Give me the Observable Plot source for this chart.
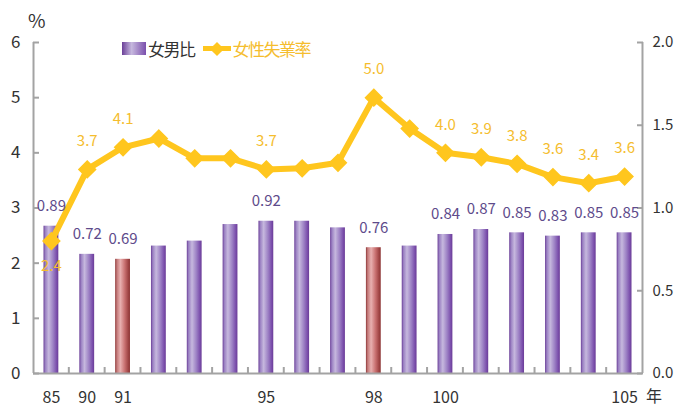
<!DOCTYPE html>
<html>
<head>
<meta charset="utf-8">
<script src="https://cdn.jsdelivr.net/npm/d3@7"></script>
<script src="https://cdn.jsdelivr.net/npm/@observablehq/plot@0.6"></script>
<style>
  body { margin: 0; background: #fff; }
  #wrap { position: relative; width: 674px; height: 408px; font-family: "Noto Sans CJK TC", "Noto Sans", sans-serif; }
  #wrap svg { position: absolute; left: 0; top: 0; }
  .ov { position: absolute; white-space: nowrap; line-height: 1; }
</style>
</head>
<body>
<div id="wrap"></div>
<script>
// ---- data ----
const years = ["85","90","91","92","93","94","95","96","97","98","99","100","101","102","103","104","105"];
const femaleRate = [2.4, 3.7, 4.1, 4.26, 3.9, 3.9, 3.7, 3.72, 3.82, 5.0, 4.44, 4.0, 3.92, 3.8, 3.56, 3.45, 3.57];
const rateLabels = ["2.4","3.7","4.1","","","","3.7","","","5.0","","4.0","3.9","3.8","3.6","3.4","3.6"];
const ratio = [0.89, 0.72, 0.69, 0.77, 0.80, 0.90, 0.92, 0.92, 0.88, 0.76, 0.77, 0.84, 0.87, 0.85, 0.83, 0.85, 0.85];
const ratioLabels = ["0.89","0.72","0.69","","","","0.92","","","0.76","","0.84","0.87","0.85","0.83","0.85","0.85"];
const highlighted = ["91","98"];
const xTickLabels = ["85","90","91","95","98","100","105"];
const leftTicks = [0,1,2,3,4,5,6];
const rightTicks = [0.0, 0.5, 1.0, 1.5, 2.0];

const rows = years.map((y, i) => ({year: y, rate: femaleRate[i], rateLabel: rateLabels[i], ratio: ratio[i], ratioLabel: ratioLabels[i], hl: highlighted.includes(y)}));
const K = 3; // right axis 2.0 maps to left 6

const yellow = "#FFC61E";
const yellowText = "#F5BD2E";
const purpleText = "#5E4B8B";
const axisGray = "#A3A3A3";

const defsMark = () => {
  const ns = "http://www.w3.org/2000/svg";
  const defs = document.createElementNS(ns, "defs");
  const mk = (id, stops) => {
    const g = document.createElementNS(ns, "linearGradient");
    g.setAttribute("id", id);
    g.setAttribute("x1", "0"); g.setAttribute("x2", "1"); g.setAttribute("y1", "0"); g.setAttribute("y2", "0");
    stops.forEach(([o, c]) => {
      const s = document.createElementNS(ns, "stop");
      s.setAttribute("offset", o); s.setAttribute("stop-color", c);
      g.appendChild(s);
    });
    defs.appendChild(g);
  };
  mk("gp", [[0, "#6B3F98"], [0.12, "#9A80C2"], [0.35, "#C6B8DE"], [0.65, "#9C80C4"], [0.88, "#7B4FAC"], [1, "#6A3C96"]]);
  mk("gr", [[0, "#8E3838"], [0.12, "#C47A7A"], [0.35, "#E8B0B0"], [0.65, "#C87070"], [0.88, "#A04545"], [1, "#8C3434"]]);
  return defs;
};

// ticks at band boundaries along the x axis, pointing up
const xBoundaryTicks = (index, scales) => {
  const ns = "http://www.w3.org/2000/svg";
  const g = document.createElementNS(ns, "g");
  const y0 = scales.y(0);
  years.slice(1).forEach(yr => {
    const xx = scales.x(yr);
    const l = document.createElementNS(ns, "line");
    l.setAttribute("x1", xx); l.setAttribute("x2", xx);
    l.setAttribute("y1", y0); l.setAttribute("y2", y0 - 6);
    l.setAttribute("stroke", axisGray); l.setAttribute("stroke-width", 2);
    g.appendChild(l);
  });
  return g;
};

const chart = Plot.plot({
  width: 674,
  height: 408,
  marginLeft: 33,
  marginRight: 32,
  marginTop: 42,
  marginBottom: 35,
  style: {fontFamily: '"Noto Sans CJK TC", "Noto Sans", sans-serif', background: "transparent", overflow: "visible"},
  x: {type: "band", domain: years, padding: 0, round: false, axis: null, label: null},
  y: {domain: [0, 6], axis: null, label: null},
  marks: [
    defsMark,
    Plot.barY(rows.filter(d => !d.hl), {x: "year", y: d => d.ratio * K, fill: "url(#gp)", insetLeft: 10.5, insetRight: 10.5}),
    Plot.barY(rows.filter(d => d.hl), {x: "year", y: d => d.ratio * K, fill: "url(#gr)", insetLeft: 10.5, insetRight: 10.5}),
    // axes lines
    Plot.ruleY([0], {stroke: axisGray, strokeWidth: 2}),
    Plot.ruleX([years[0]], {x: d => d, dx: -17.9, y1: 0, y2: 6, stroke: axisGray, strokeWidth: 2}),
    Plot.ruleX([years[years.length - 1]], {x: d => d, dx: 17.9, y1: 0, y2: 6, stroke: axisGray, strokeWidth: 2}),
    xBoundaryTicks,
    // left axis
    Plot.axisY(leftTicks, {anchor: "left", label: null, tickSize: 6, dx: 6, tickFormat: () => "", stroke: axisGray, strokeWidth: 2}),
    Plot.axisY(leftTicks, {anchor: "left", label: null, tickSize: 0, tickPadding: 13, fontSize: 17, fill: "#333", tickFormat: d => String(d)}),
    // right axis
    Plot.axisY(rightTicks.map(v => v * K), {anchor: "right", label: null, tickSize: 6, dx: -6, tickFormat: () => "", stroke: axisGray, strokeWidth: 2}),
    Plot.axisY(rightTicks.map(v => v * K), {anchor: "right", label: null, tickSize: 0, tickPadding: 10, fontSize: 15, fill: "#333", tickFormat: d => (d / K).toFixed(1), style: "letter-spacing:-2.5px"}),
    // x axis labels
    Plot.axisX(xTickLabels, {anchor: "bottom", label: null, tickSize: 0, tickPadding: 18, fontSize: 16, fill: "#333", style: "letter-spacing:-1px"}),
    // line
    Plot.line(rows, {x: "year", y: "rate", stroke: yellow, strokeWidth: 6, strokeLinejoin: "miter"}),
    Plot.dot(rows, {x: "year", y: "rate", symbol: "diamond2", r: 7.5, fill: yellow, stroke: yellow}),
    // labels
    Plot.text(rows.filter(d => d.ratioLabel), {x: "year", y: d => d.ratio * K, text: "ratioLabel", dy: -20, fill: purpleText, fontSize: 15, style: "letter-spacing:-1.3px"}),
    Plot.text(rows.filter(d => d.rateLabel && d.year !== "85"), {x: "year", y: "rate", text: "rateLabel", dy: -28, fill: yellowText, fontSize: 15, style: "letter-spacing:-1.3px"}),
    Plot.text(rows.filter(d => d.rateLabel && d.year === "85"), {x: "year", y: "rate", text: "rateLabel", dy: 25, fill: yellowText, fontSize: 15, style: "letter-spacing:-1.3px"})
  ]
});

const wrap = document.getElementById("wrap");
wrap.appendChild(chart);

const addOv = (html, css) => {
  const d = document.createElement("div");
  d.className = "ov";
  d.innerHTML = html;
  Object.assign(d.style, css);
  wrap.appendChild(d);
};
addOv("%", {left: "28px", top: "10px", fontSize: "19px", color: "#333"});
addOv("年", {left: "646px", top: "387px", fontSize: "16px", color: "#333"});
// legend
addOv(`<span style="display:inline-block;width:24px;height:13px;background:linear-gradient(to right,#6B3F98,#C6B8DE 40%,#7B4FAC);vertical-align:middle"></span>` +
  `<span style="color:#333;font-size:17px;letter-spacing:-1.5px;vertical-align:middle;margin-left:2px">女男比</span>` +
  `<span style="display:inline-block;position:relative;width:28px;height:13px;vertical-align:middle;margin-left:8px">` +
    `<span style="position:absolute;left:0;top:4px;width:28px;height:5px;background:${yellow}"></span>` +
    `<span style="position:absolute;left:9px;top:1.5px;width:10px;height:10px;background:${yellow};transform:rotate(45deg)"></span>` +
  `</span>` +
  `<span style="color:${yellowText};font-size:17px;letter-spacing:-1.5px;vertical-align:middle;margin-left:2px">女性失業率</span>`,
  {left: "122px", top: "38px"});
</script>
</body>
</html>
